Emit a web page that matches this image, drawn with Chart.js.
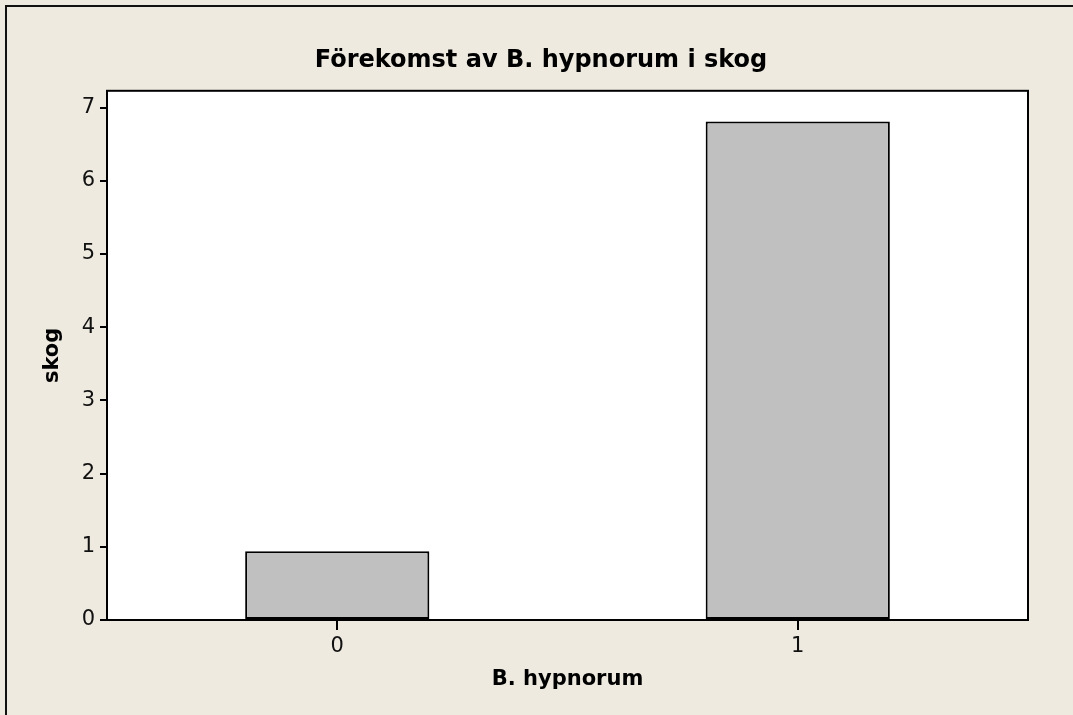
<!DOCTYPE html>
<html>
<head>
<meta charset="utf-8">
<script src="https://cdn.jsdelivr.net/npm/chart.js@4"></script>
<style>
  html, body { margin: 0; padding: 0; background: #eeeae0; }
  #wrap { width: 1073px; height: 715px; position: relative; }
</style>
</head>
<body>
<div id="wrap"><canvas id="chart" width="1073" height="715"></canvas></div>
<script>
// Förekomst av B. hypnorum i skog
const categories = ['0', '1'];
const skogValues = [0.94, 6.81];
const yTicks = [0, 1, 2, 3, 4, 5, 6, 7];

const FONT = "'DejaVu Sans', Verdana, sans-serif";

// background, outer frame, white plot area and plot border
const framePlugin = {
  id: 'frame',
  beforeDraw: (chart) => {
    const ctx = chart.ctx;
    const a = chart.chartArea;
    ctx.save();
    ctx.fillStyle = '#eeeae0';
    ctx.fillRect(0, 0, chart.width, chart.height);
    ctx.strokeStyle = '#111';
    ctx.lineWidth = 2;
    ctx.beginPath();
    ctx.moveTo(6, chart.height + 2);
    ctx.lineTo(6, 6);
    ctx.lineTo(chart.width + 2, 6);
    ctx.stroke();
    ctx.fillStyle = '#ffffff';
    ctx.fillRect(a.left, a.top, a.right - a.left, a.bottom - a.top);
    ctx.restore();
  },
  afterDatasetsDraw: (chart) => {
    const ctx = chart.ctx;
    const a = chart.chartArea;
    ctx.save();
    ctx.strokeStyle = '#000';
    ctx.lineWidth = 2;
    ctx.strokeRect(a.left, a.top, a.right - a.left, a.bottom - a.top);
    ctx.restore();
  }
};

new Chart(document.getElementById('chart'), {
  type: 'bar',
  data: {
    labels: categories,
    datasets: [{
      label: 'skog',
      data: skogValues,
      backgroundColor: '#c0c0c0',
      borderColor: '#000000',
      borderWidth: 2,
      borderSkipped: false,
      barPercentage: 0.4,
      categoryPercentage: 1.0
    }]
  },
  plugins: [framePlugin],
  options: {
    responsive: false,
    animation: false,
    // left padding shifts the centred title; the y axis is narrowed to match
    layout: { padding: { left: 54, right: 45, top: 0, bottom: 0 } },
    plugins: {
      legend: { display: false },
      tooltip: { enabled: false },
      title: {
        display: true,
        text: 'Förekomst av B. hypnorum i skog',
        color: '#000',
        font: { family: FONT, size: 24, weight: 'bold' },
        padding: { top: 46, bottom: 16 }
      }
    },
    scales: {
      x: {
        grid: { offset: false, drawOnChartArea: false, drawTicks: true, tickLength: 10, color: '#000', lineWidth: 2 },
        border: { display: false },
        ticks: { color: '#111', font: { family: FONT, size: 21 }, padding: 4 },
        title: {
          display: true,
          text: 'B. hypnorum',
          color: '#000',
          font: { family: FONT, size: 21, weight: 'bold' },
          padding: { top: 0, bottom: 23 }
        },
        afterFit: (scale) => { scale.height = 95; }
      },
      y: {
        min: 0,
        max: 7.23,
        grid: { drawOnChartArea: false, drawTicks: true, tickLength: 7, color: '#000', lineWidth: 2 },
        border: { display: false },
        ticks: {
          color: '#111',
          font: { family: FONT, size: 21 },
          padding: 5,
          stepSize: 1,
          includeBounds: false,
          callback: (v) => yTicks.includes(v) ? String(v) : ''
        },
        title: {
          display: true,
          text: 'skog',
          color: '#000',
          font: { family: FONT, size: 21, weight: 'bold' },
          padding: { top: -14, bottom: 0 }
        },
        afterFit: (scale) => { scale.width = 53; }
      }
    }
  }
});
</script>
</body>
</html>
